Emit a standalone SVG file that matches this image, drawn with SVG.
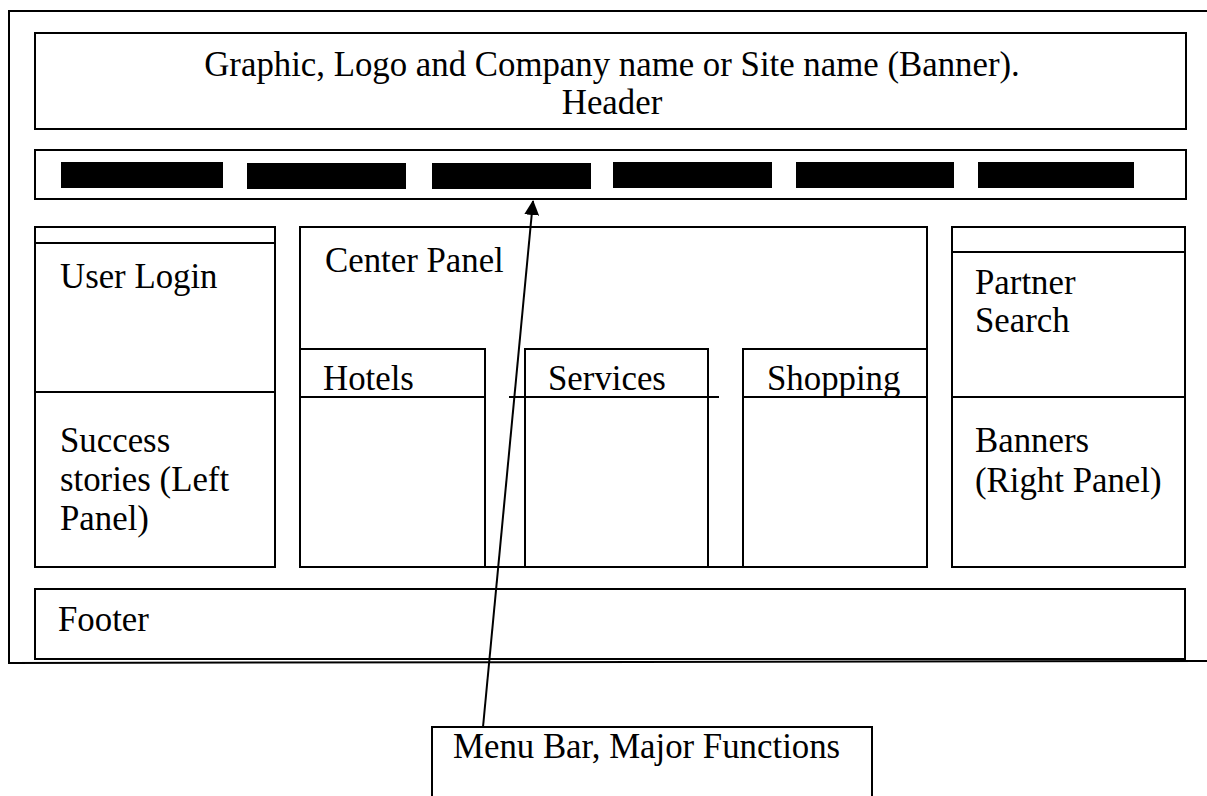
<svg xmlns="http://www.w3.org/2000/svg" width="1207" height="796" viewBox="0 0 1207 796">
  <style>
    .box { fill: none; stroke: #000; stroke-width: 2; }
    .ln { stroke: #000; stroke-width: 2; fill: none; }
    .lbl { font-family: "Liberation Serif", "Times New Roman", serif; font-size: 34.8px; fill: #000; }
    .mid { text-anchor: middle; }
    .menu { fill: #000; }
  </style>
  <defs>
    <marker id="arrowHead" markerWidth="15" markerHeight="15" refX="14" refY="7.5" orient="auto" markerUnits="userSpaceOnUse">
      <path d="M0,0 L15,7.5 L0,15 Z" fill="#000"/>
    </marker>
  </defs>

  <rect width="1207" height="796" fill="#fff"/>

  <!-- page frame (open on the right) -->
  <g id="page-frame">
    <path class="ln" d="M1207,11 L9,11 L9,663 L1207,661"/>
  </g>

  <!-- header banner -->
  <g id="header">
    <rect class="box" x="35" y="33" width="1151" height="96"/>
    <text class="lbl mid" x="612" y="76">Graphic, Logo and Company name or Site name (Banner).</text>
    <text class="lbl mid" x="612" y="114">Header</text>
  </g>

  <!-- menu bar with six items -->
  <g id="menu-bar">
    <rect class="box" x="35" y="150" width="1151" height="49"/>
    <rect class="menu" x="61" y="162" width="162" height="26"/>
    <rect class="menu" x="247" y="163" width="159" height="26"/>
    <rect class="menu" x="432" y="163" width="159" height="26"/>
    <rect class="menu" x="613" y="162" width="159" height="26"/>
    <rect class="menu" x="796" y="162" width="158" height="26"/>
    <rect class="menu" x="978" y="162" width="156" height="26"/>
  </g>

  <!-- left panel -->
  <g id="left-panel">
    <rect class="box" x="35" y="227" width="240" height="340"/>
    <line class="ln" x1="35" y1="243" x2="275" y2="243"/>
    <line class="ln" x1="35" y1="392" x2="275" y2="392"/>
    <text class="lbl" x="60" y="288">User Login</text>
    <text class="lbl" x="60" y="452">Success</text>
    <text class="lbl" x="60" y="491">stories (Left</text>
    <text class="lbl" x="60" y="530">Panel)</text>
  </g>

  <!-- center panel -->
  <g id="center-panel">
    <rect class="box" x="300" y="227" width="627" height="340"/>
    <text class="lbl" x="325" y="272">Center Panel</text>
  </g>

  <g id="hotels">
    <path class="ln" d="M300,349 L485,349 L485,567"/>
    <line class="ln" x1="300" y1="397" x2="485" y2="397"/>
    <text class="lbl" x="323" y="390">Hotels</text>
  </g>

  <g id="services">
    <path class="ln" d="M525,567 L525,349 L708,349 L708,567"/>
    <line class="ln" x1="509" y1="397" x2="719" y2="397"/>
    <text class="lbl" x="548" y="390">Services</text>
  </g>

  <g id="shopping">
    <path class="ln" d="M743,567 L743,349 L926,349"/>
    <line class="ln" x1="743" y1="397" x2="926" y2="397"/>
    <text class="lbl" x="767" y="390">Shopping</text>
  </g>

  <!-- right panel -->
  <g id="right-panel">
    <rect class="box" x="952" y="227" width="233" height="340"/>
    <line class="ln" x1="952" y1="252" x2="1185" y2="252"/>
    <line class="ln" x1="952" y1="397" x2="1185" y2="397"/>
    <text class="lbl" x="975" y="294">Partner</text>
    <text class="lbl" x="975" y="332">Search</text>
    <text class="lbl" x="975" y="452">Banners</text>
    <text class="lbl" x="975" y="492">(Right Panel)</text>
  </g>

  <!-- footer -->
  <g id="footer">
    <rect class="box" x="35" y="589" width="1150" height="70"/>
    <text class="lbl" x="58" y="631">Footer</text>
  </g>

  <!-- callout box (open at the bottom) -->
  <g id="menu-callout">
    <path class="ln" d="M432,796 L432,727 L872,727 L872,796"/>
    <text class="lbl" x="453" y="758">Menu Bar, Major Functions</text>
  </g>

  <!-- connectors -->
  <g id="connectors">
    <line class="ln" x1="483" y1="727" x2="533" y2="201" marker-end="url(#arrowHead)"/>
  </g>
</svg>
